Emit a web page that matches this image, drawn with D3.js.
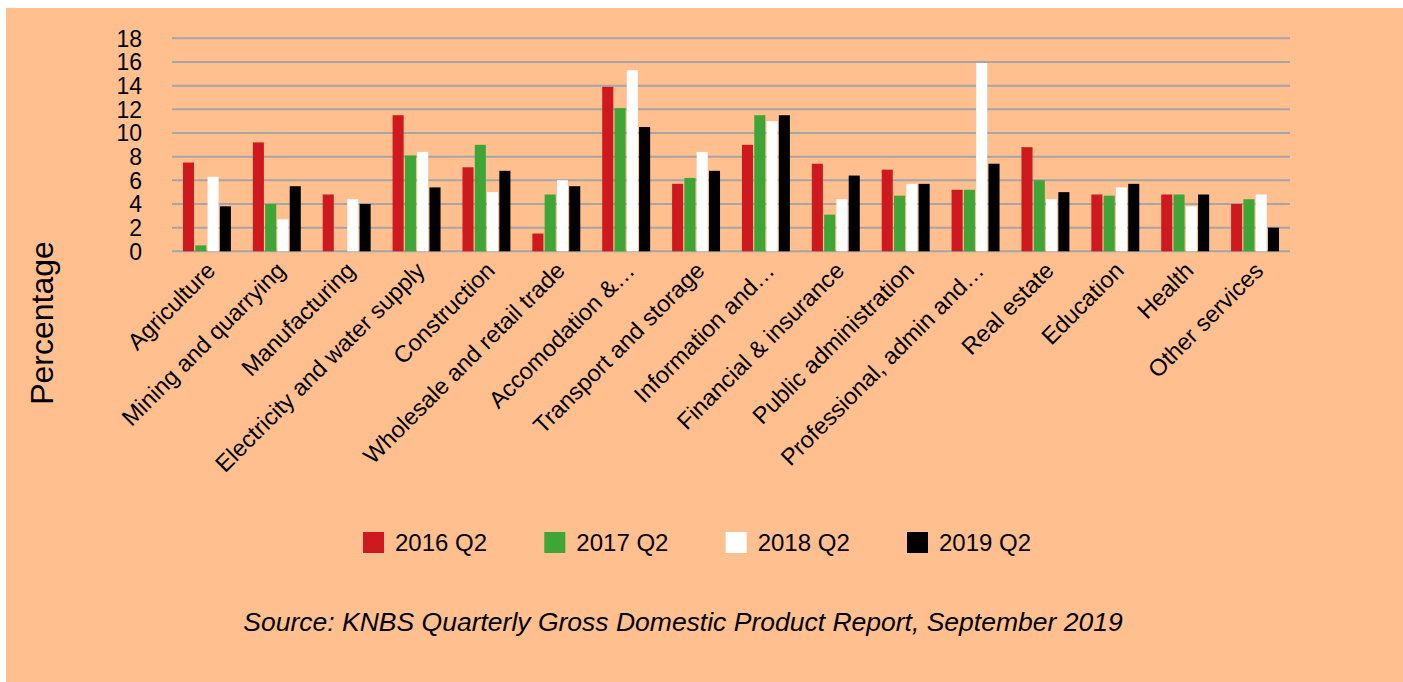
<!DOCTYPE html>
<html>
<head>
<meta charset="utf-8">
<script src="https://cdn.jsdelivr.net/npm/d3@7"></script>
<style>
  html, body { margin: 0; padding: 0; background: #ffffff; }
  svg { display: block; font-family: "Liberation Sans", Arial, sans-serif; }
</style>
</head>
<body>
<svg id="chart" width="1403" height="682"></svg>
<script>
const categories = [
  "Agriculture", "Mining and quarrying", "Manufacturing", "Electricity and water supply",
  "Construction", "Wholesale and retail trade", "Accomodation &\u2026", "Transport and storage",
  "Information and\u2026", "Financial & insurance", "Public administration", "Professional, admin and\u2026",
  "Real estate", "Education", "Health", "Other services"
];
const seriesNames = ["2016 Q2", "2017 Q2", "2018 Q2", "2019 Q2"];
const seriesColors = ["#CE1A1E", "#3EA536", "#FFFFFF", "#000000"];
const values2016 = [7.5, 9.2, 4.8, 11.5, 7.1, 1.5, 13.9, 5.7, 9.0, 7.4, 6.9, 5.2, 8.8, 4.8, 4.8, 4.0];
const values2017 = [0.5, 4.0, 0.0, 8.1, 9.0, 4.8, 12.1, 6.2, 11.5, 3.1, 4.7, 5.2, 6.0, 4.7, 4.8, 4.4];
const values2018 = [6.3, 2.7, 4.4, 8.4, 5.0, 6.0, 15.3, 8.4, 11.0, 4.4, 5.7, 15.9, 4.4, 5.4, 3.8, 4.8];
const values2019 = [3.8, 5.5, 4.0, 5.4, 6.8, 5.5, 10.5, 6.8, 11.5, 6.4, 5.7, 7.4, 5.0, 5.7, 4.8, 2.0];
const yTicks = [0, 2, 4, 6, 8, 10, 12, 14, 16, 18];
const yAxisTitle = "Percentage";
const sourceText = "Source: KNBS Quarterly Gross Domestic Product Report, September 2019";

const seriesValues = [values2016, values2017, values2018, values2019];
const rows = categories.map((c, i) => ({
  category: c,
  vals: seriesNames.map((s, j) => ({ series: s, value: seriesValues[j][i], color: seriesColors[j] }))
}));

const svg = d3.select("#chart");
const W = 1403, H = 682;

// background panel
svg.append("rect").attr("x", 6).attr("y", 8).attr("width", W - 6).attr("height", H - 8)
  .attr("fill", "#FFBF8F");

const plotLeft = 172, plotRight = 1290, plotTop = 38.3, plotBottom = 251.3;

const x0 = d3.scaleBand().domain(categories).range([plotLeft, plotRight]).padding(0);
const bw = x0.bandwidth();
const x1 = d3.scaleBand().domain(seriesNames).range([bw * 0.157, bw * 0.843]).paddingInner(0.1);
const y = d3.scaleLinear().domain([0, 18]).range([plotBottom, plotTop]);

// gridlines
svg.append("g").selectAll("line").data(yTicks).join("line")
  .attr("x1", plotLeft).attr("x2", plotRight)
  .attr("y1", d => y(d)).attr("y2", d => y(d))
  .attr("stroke", "#A6A6A6").attr("stroke-width", 2);

// y tick labels
svg.append("g").selectAll("text").data(yTicks).join("text")
  .attr("x", 142).attr("y", d => y(d)).attr("dy", "0.36em")
  .attr("text-anchor", "end").attr("font-size", 23).attr("fill", "#000")
  .text(d => d);

// bars
const groups = svg.append("g").selectAll("g").data(rows).join("g")
  .attr("transform", d => `translate(${x0(d.category)},0)`);
groups.selectAll("rect").data(d => d.vals.filter(v => v.value > 0)).join("rect")
  .attr("x", d => x1(d.series))
  .attr("width", x1.bandwidth())
  .attr("y", d => y(d.value))
  .attr("height", d => y(0) - y(d.value))
  .attr("fill", d => d.color);

// x labels
svg.append("g").selectAll("text").data(categories).join("text")
  .attr("text-anchor", "end").attr("font-size", 23.5).attr("fill", "#000")
  .attr("transform", d => `translate(${x0(d) + bw / 2 + 4},${plotBottom + 15}) rotate(-45)`)
  .attr("dy", "0.35em")
  .text(d => d);

// y axis title
svg.append("text")
  .attr("transform", `translate(53,323) rotate(-90)`)
  .attr("text-anchor", "middle").attr("font-size", 32).attr("fill", "#000")
  .text(yAxisTitle);

// legend
const legendX = d3.scalePoint().domain(seriesNames).range([363, 907]);
const leg = svg.append("g").selectAll("g").data(seriesNames).join("g")
  .attr("transform", d => `translate(${legendX(d)},532)`);
leg.append("rect").attr("width", 21).attr("height", 21)
  .attr("fill", (d, i) => seriesColors[i]);
leg.append("text").attr("x", 32).attr("y", 19).attr("font-size", 24).attr("fill", "#000")
  .text(d => d);

// source
svg.append("text")
  .attr("x", 683).attr("y", 631).attr("text-anchor", "middle")
  .attr("font-size", 26.5).attr("font-style", "italic").attr("fill", "#000")
  .text(sourceText);
</script>
</body>
</html>
